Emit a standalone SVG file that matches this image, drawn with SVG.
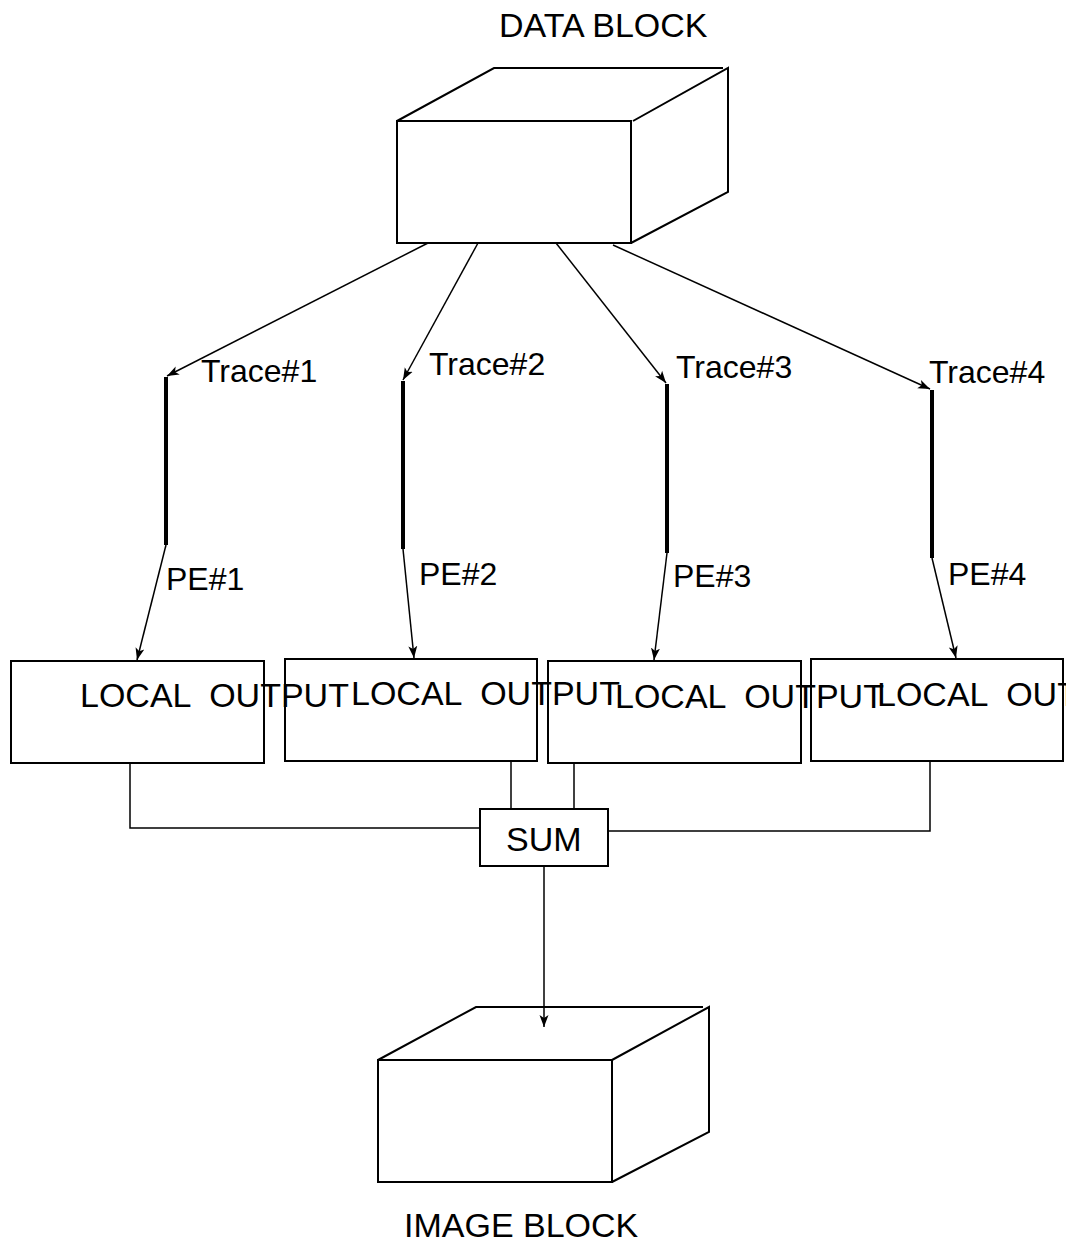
<svg xmlns="http://www.w3.org/2000/svg" width="1066" height="1243" viewBox="0 0 1066 1243">
<style>
  text { font-family: "Liberation Sans", Arial, sans-serif; font-size: 34px; fill: #000; }
  .small { font-size: 32px; }
  .box { fill: #fff; stroke: #000; stroke-width: 2; }
  .edge { fill: none; stroke: #000; stroke-width: 2; }
  .conn { fill: none; stroke: #000; stroke-width: 1.5; }
  .bar { fill: none; stroke: #000; stroke-width: 4; }
  .arrow { marker-end: url(#ah); }
</style>
<defs>
  <marker id="ah" markerUnits="userSpaceOnUse" markerWidth="14" markerHeight="10" refX="12" refY="4.5" orient="auto" viewBox="0 0 14 9">
    <path d="M0,0 L12,4.5 L0,9 L3,4.5 z" fill="#000"/>
  </marker>
</defs>
<rect width="1066" height="1243" fill="#fff"/>

<g id="data-block">
  <rect class="box" x="397" y="121" width="234" height="122"/>
  <path class="edge" d="M397,121 L494,68 L723,68"/>
  <path class="edge" d="M633,121 L728,68 L728,192 L631,243"/>
  <text x="499" y="37">DATA BLOCK</text>
</g>

<g id="trace1">
  <line class="bar" x1="166" y1="377" x2="166" y2="545"/>
  <text class="small" x="201" y="382">Trace#1</text>
  <text class="small" x="166" y="590">PE#1</text>
</g>
<g id="trace2">
  <line class="bar" x1="403" y1="381" x2="403" y2="549"/>
  <text class="small" x="429" y="375">Trace#2</text>
  <text class="small" x="419" y="585">PE#2</text>
</g>
<g id="trace3">
  <line class="bar" x1="667" y1="384" x2="667" y2="553"/>
  <text class="small" x="676" y="378">Trace#3</text>
  <text class="small" x="673" y="587">PE#3</text>
</g>
<g id="trace4">
  <line class="bar" x1="932" y1="390" x2="932" y2="558"/>
  <text class="small" x="929" y="383">Trace#4</text>
  <text class="small" x="948" y="585">PE#4</text>
</g>

<g id="local-output-1">
  <rect class="box" x="11" y="661" width="253" height="102"/>
</g>
<g id="local-output-2">
  <rect class="box" x="285" y="659" width="252" height="102"/>
</g>
<g id="local-output-3">
  <rect class="box" x="548" y="661" width="253" height="102"/>
</g>
<g id="local-output-4">
  <rect class="box" x="811" y="659" width="252" height="102"/>
</g>
<g id="local-output-labels">
  <text x="80" y="707" xml:space="preserve">LOCAL  OUTPUT</text>
  <text x="351" y="705" xml:space="preserve">LOCAL  OUTPUT</text>
  <text x="615" y="708" xml:space="preserve">LOCAL  OUTPUT</text>
  <text x="877" y="706" xml:space="preserve">LOCAL  OUTPUT</text>
</g>

<g id="sum">
  <rect class="box" x="480" y="809" width="128" height="57"/>
  <text x="506" y="851">SUM</text>
</g>

<g id="image-block">
  <rect class="box" x="378" y="1060" width="234" height="122"/>
  <path class="edge" d="M378,1060 L476,1007 L703,1007"/>
  <path class="edge" d="M612,1060 L709,1007 L709,1132 L612,1182"/>
  <text x="404" y="1237">IMAGE BLOCK</text>
</g>

<g id="connectors">
  <line class="conn arrow" x1="428" y1="243" x2="167" y2="376"/>
  <line class="conn arrow" x1="478" y1="243" x2="403" y2="380"/>
  <line class="conn arrow" x1="556" y1="243" x2="666" y2="383"/>
  <line class="conn arrow" x1="613" y1="245" x2="930" y2="389"/>

  <line class="conn arrow" x1="166" y1="545" x2="137" y2="660"/>
  <line class="conn arrow" x1="403" y1="549" x2="414" y2="658"/>
  <line class="conn arrow" x1="667" y1="553" x2="654" y2="660"/>
  <line class="conn arrow" x1="932" y1="558" x2="956" y2="658"/>

  <path class="conn" d="M130,763 L130,828 L480,828"/>
  <line class="conn" x1="511" y1="761" x2="511" y2="809"/>
  <line class="conn" x1="574" y1="763" x2="574" y2="809"/>
  <path class="conn" d="M930,761 L930,831 L608,831"/>

  <line class="conn arrow" x1="544" y1="866" x2="544" y2="1027"/>
</g>
</svg>
